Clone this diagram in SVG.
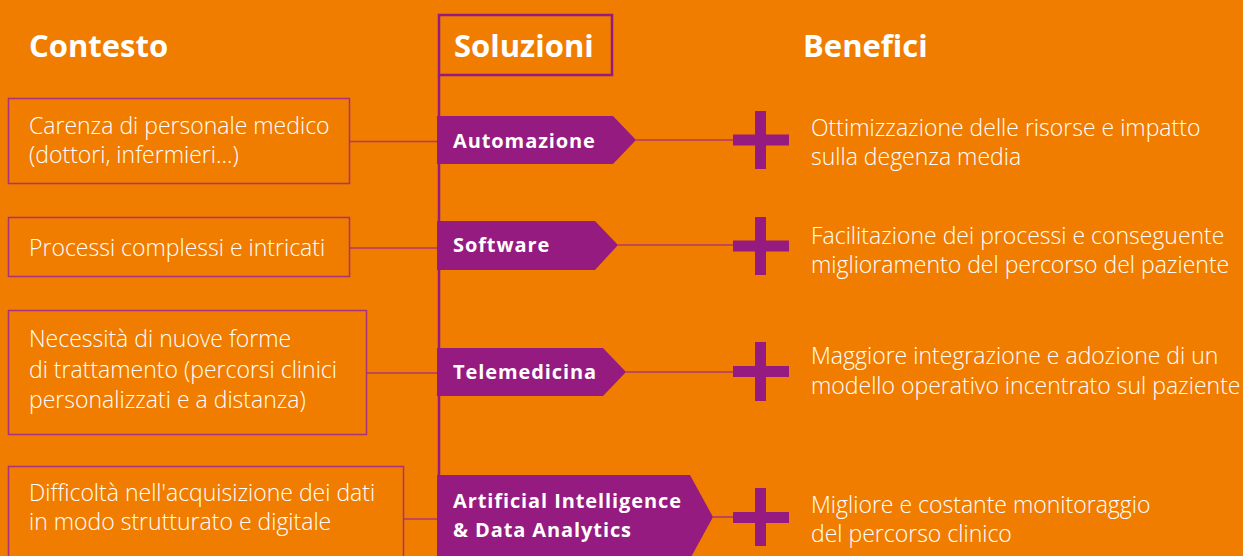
<svg xmlns="http://www.w3.org/2000/svg" width="1243" height="556" viewBox="0 0 1243 556">
<style>
.bg{fill:#F07D00}
.box{fill:none;stroke:#A8337A;stroke-width:1.5}
.con{stroke:#B03A6E;stroke-width:1.6;fill:none}
.spine{stroke:#951B81;stroke-width:2.5;fill:none}
.tag{fill:#951B81}
.plus{fill:#951B81}
.t{font-family:"Open Sans","Liberation Sans",sans-serif;font-size:23px;fill:#fff;font-weight:300}
.h{font-family:"Open Sans","Liberation Sans",sans-serif;font-size:31px;fill:#fff;font-weight:700}
.l{font-family:"Open Sans","Liberation Sans",sans-serif;font-size:20px;fill:#fff;font-weight:700;letter-spacing:0.9px}
</style>
<rect class="bg" x="0" y="0" width="1243" height="556"/>
<g id="headers">
<text class="h" x="29" y="57">Contesto</text>
<text class="h" x="803" y="57">Benefici</text>
</g>
<g id="connectors">
<line class="spine" x1="439" y1="75" x2="439" y2="556"/>
<line class="con" x1="350" y1="141.5" x2="439" y2="141.5"/>
<line class="con" x1="350" y1="248" x2="439" y2="248"/>
<line class="con" x1="367" y1="373" x2="439" y2="373"/>
<line class="con" x1="404" y1="519" x2="439" y2="519"/>
<line class="con" x1="636" y1="140" x2="740" y2="140"/>
<line class="con" x1="618" y1="245" x2="740" y2="245"/>
<line class="con" x1="626" y1="372" x2="740" y2="372"/>
<line class="con" x1="713" y1="517" x2="740" y2="517"/>
</g>
<g id="soluzioni">
<rect x="439" y="15" width="173" height="60" fill="none" stroke="#951B81" stroke-width="2.5"/>
<text class="h" x="454" y="57">Soluzioni</text>
</g>
<g id="ctx1">
<rect class="box" x="8.5" y="98.5" width="341" height="85"/>
<text class="t" x="29" y="134">Carenza di personale medico</text>
<text class="t" x="29" y="163">(dottori, infermieri...)</text>
</g>
<g id="ctx2">
<rect class="box" x="8.5" y="217.5" width="341" height="59"/>
<text class="t" x="29" y="256">Processi complessi e intricati</text>
</g>
<g id="ctx3">
<rect class="box" x="8.5" y="310.5" width="358" height="124"/>
<text class="t" x="29" y="347">Necessità di nuove forme</text>
<text class="t" x="29" y="378">di trattamento (percorsi clinici</text>
<text class="t" x="29" y="408">personalizzati e a distanza)</text>
</g>
<g id="ctx4">
<rect class="box" x="8.5" y="466.5" width="395" height="100"/>
<text class="t" x="29" y="501">Difficoltà nell'acquisizione dei dati</text>
<text class="t" x="29" y="530">in modo strutturato e digitale</text>
</g>
<g id="sol1">
<polygon class="tag" points="437,116 613,116 636,140 613,164 437,164"/>
<text class="l" x="453" y="148">Automazione</text>
</g>
<g id="sol2">
<polygon class="tag" points="437,221 595,221 618,245 595,270 437,270"/>
<text class="l" x="453" y="252">Software</text>
</g>
<g id="sol3">
<polygon class="tag" points="437,348 603,348 626,372 603,396 437,396"/>
<text class="l" x="453" y="379">Telemedicina</text>
</g>
<g id="sol4">
<polygon class="tag" points="437,475 690,475 713,517 690,559 437,559"/>
<text class="l" x="453" y="508">Artificial Intelligence</text>
<text class="l" x="453" y="537">&amp; Data Analytics</text>
</g>
<g id="ben1">
<rect class="plus" x="755" y="111" width="11" height="58"/>
<rect class="plus" x="733" y="134.5" width="56" height="11"/>
<text class="t" x="811" y="136">Ottimizzazione delle risorse e impatto</text>
<text class="t" x="811" y="165">sulla degenza media</text>
</g>
<g id="ben2">
<rect class="plus" x="755" y="217" width="11" height="58"/>
<rect class="plus" x="733" y="240.5" width="56" height="11"/>
<text class="t" x="811" y="244">Facilitazione dei processi e conseguente</text>
<text class="t" x="811" y="273">miglioramento del percorso del paziente</text>
</g>
<g id="ben3">
<rect class="plus" x="755" y="342" width="11" height="59"/>
<rect class="plus" x="733" y="366" width="56" height="11"/>
<text class="t" x="811" y="364">Maggiore integrazione e adozione di un</text>
<text class="t" x="811" y="394">modello operativo incentrato sul paziente</text>
</g>
<g id="ben4">
<rect class="plus" x="755" y="488" width="11" height="58"/>
<rect class="plus" x="733" y="512" width="56" height="11"/>
<text class="t" x="811" y="513">Migliore e costante monitoraggio</text>
<text class="t" x="811" y="542">del percorso clinico</text>
</g>
</svg>
